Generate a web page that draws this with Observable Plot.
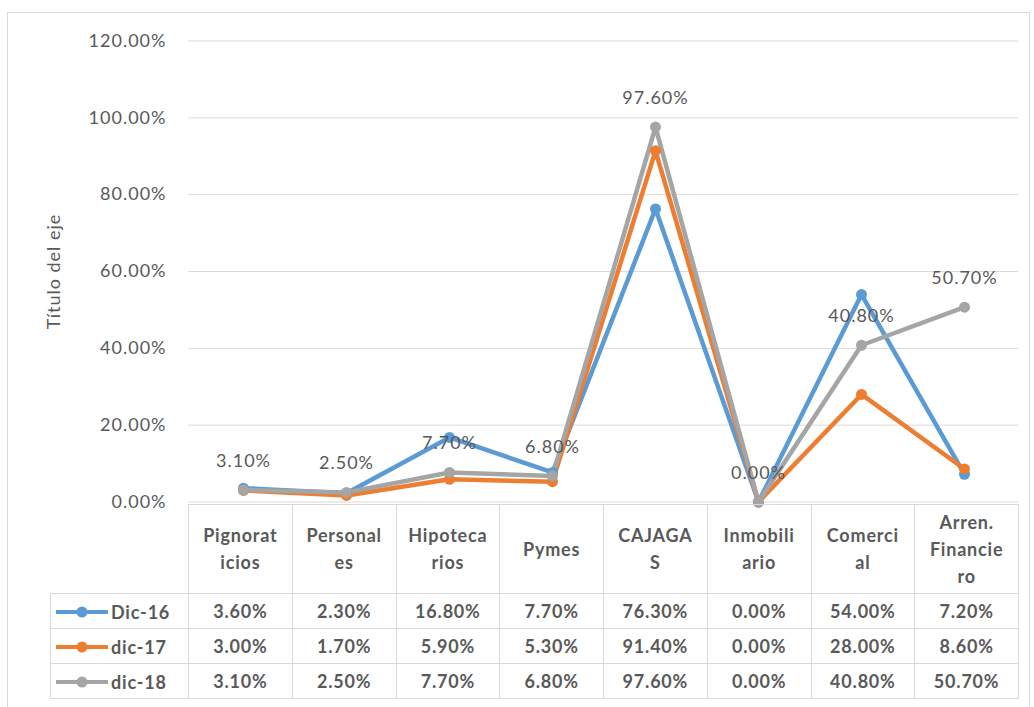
<!DOCTYPE html>
<html>
<head>
<meta charset="utf-8">
<script src="https://cdn.jsdelivr.net/npm/d3@7"></script>
<script src="https://cdn.jsdelivr.net/npm/@observablehq/plot@0.6"></script>
<style>
  html, body { margin: 0; padding: 0; background: #fff; }
  #wrap { position: relative; width: 1034px; height: 707px; overflow: hidden; font-family: Lato, "Open Sans", sans-serif; }
  #frame { position: absolute; left: 7px; top: 12px; width: 1021px; height: 710px; border: 1px solid #d9d9d9; }
  #chart { position: absolute; left: 0; top: 0; }
  #chart svg text { letter-spacing: 1px; }
  table.dt { position: absolute; left: 50px; top: 504px; border-collapse: collapse; table-layout: fixed; color: #595959; font-weight: 700; font-size: 18px; letter-spacing: 0.8px; }
  table.dt td { border: 1px solid #d9d9d9; text-align: center; padding: 0; line-height: 20px; }
  table.dt td.blank { border: none; border-right: 1px solid #d9d9d9; }
  table.dt tr.head td { height: 88px; line-height: 27px; }
  table.dt tr.row td { height: 34px; }
  table.dt td.leg { text-align: left; white-space: nowrap; }
  table.dt td.leg svg { vertical-align: middle; margin-left: 5px; }
  table.dt td.leg span { vertical-align: middle; margin-left: 3px; }
</style>
</head>
<body>
<div id="wrap">
  <div id="frame"></div>
  <div id="chart"></div>
</div>
<script>
// ---- data ----
const categories = ["Pignoraticios","Personales","Hipotecarios","Pymes","CAJAGAS","Inmobiliario","Comercial","Arren. Financiero"];
const headerLabels = [["Pignorat","icios"],["Personal","es"],["Hipoteca","rios"],["Pymes"],["CAJAGA","S"],["Inmobili","ario"],["Comerci","al"],["Arren.","Financie","ro"]];
const seriesNames = ["Dic-16","dic-17","dic-18"];
const dic16 = [0.036, 0.023, 0.168, 0.077, 0.763, 0.000, 0.540, 0.072];
const dic17 = [0.030, 0.017, 0.059, 0.053, 0.914, 0.000, 0.280, 0.086];
const dic18 = [0.031, 0.025, 0.077, 0.068, 0.976, 0.000, 0.408, 0.507];
const seriesColors = ["#5B9BD5", "#ED7D31", "#A5A5A5"];
const yTicks = [0, 0.2, 0.4, 0.6, 0.8, 1.0, 1.2];
const axisTitle = "Título del eje";

const seriesValues = [dic16, dic17, dic18];
const rows = [];
seriesNames.forEach((s, si) => categories.forEach((c, ci) => rows.push({series: s, cat: c, value: seriesValues[si][ci]})));
const fmt = v => (v * 100).toFixed(2) + "%";

const chart = Plot.plot({
  width: 1034,
  height: 707,
  marginLeft: 188,
  marginRight: 16,
  marginTop: 40.5,
  marginBottom: 205.5,
  style: {fontFamily: "Lato, 'Open Sans', sans-serif", fontSize: "18px", color: "#595959", background: "transparent", overflow: "visible"},
  x: {type: "point", domain: categories, padding: 0.5, axis: null},
  y: {domain: [0, 1.2]},
  color: {domain: seriesNames, range: seriesColors},
  marks: [
    Plot.ruleY(yTicks, {stroke: "#d9d9d9", strokeWidth: 1}),
    Plot.axisY({ticks: yTicks, tickSize: 0, tickPadding: 22, tickFormat: fmt, label: axisTitle, labelAnchor: "center", labelArrow: "none", labelOffset: 141, fill: "#595959", fontSize: 18}),
    Plot.line(rows, {x: "cat", y: "value", z: "series", stroke: "series", strokeWidth: 4.5, strokeLinejoin: "round"}),
    Plot.dot(rows, {x: "cat", y: "value", fill: "series", r: 5.5, stroke: "none"}),
    Plot.text(rows.filter(d => d.series === "dic-18"), {x: "cat", y: "value", text: d => fmt(d.value), dy: -29, fill: "#595959", fontSize: 18})
  ]
});
document.getElementById("chart").appendChild(chart);

// ---- data table ----
const table = document.createElement("table");
table.className = "dt";
const cg = document.createElement("colgroup");
const c0 = document.createElement("col"); c0.style.width = "138px"; cg.appendChild(c0);
categories.forEach(() => { const c = document.createElement("col"); c.style.width = "103.75px"; cg.appendChild(c); });
table.appendChild(cg);
const head = document.createElement("tr"); head.className = "head";
const blank = document.createElement("td"); blank.className = "blank"; head.appendChild(blank);
headerLabels.forEach(lines => { const td = document.createElement("td"); td.innerHTML = lines.join("<br>"); head.appendChild(td); });
table.appendChild(head);
seriesNames.forEach((s, si) => {
  const tr = document.createElement("tr"); tr.className = "row";
  const leg = document.createElement("td"); leg.className = "leg";
  leg.innerHTML = `<svg width="52" height="12"><line x1="1" y1="6" x2="51" y2="6" stroke="${seriesColors[si]}" stroke-width="4" stroke-linecap="round"/><circle cx="26" cy="6" r="5.5" fill="${seriesColors[si]}"/></svg><span>${s}</span>`;
  tr.appendChild(leg);
  seriesValues[si].forEach(v => { const td = document.createElement("td"); td.textContent = fmt(v); tr.appendChild(td); });
  table.appendChild(tr);
});
document.getElementById("wrap").appendChild(table);
</script>
</body>
</html>
